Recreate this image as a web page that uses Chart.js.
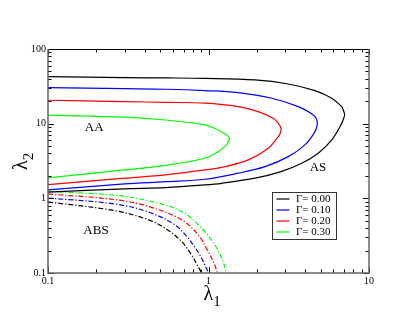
<!DOCTYPE html>
<html>
<head>
<meta charset="utf-8">
<script src="https://cdn.jsdelivr.net/npm/chart.js@4/dist/chart.umd.min.js"></script>
<style>
  html, body { margin: 0; padding: 0; background: #fff; }
</style>
</head>
<body>
<canvas id="chart" width="415" height="321"></canvas>
<script>
// Gamma values (legend)
const gammaLabels = ['Γ= 0.00', 'Γ= 0.10', 'Γ= 0.20', 'Γ= 0.30'];

// Solid curves (AA / AS boundary), [lambda1, lambda2]
const solidG000 = [[0.1, 42.6], [0.3, 41.3], [0.54, 41.0], [0.95, 40.5], [1.95, 38.5], [3.14, 34.0], [4.61, 27.7], [5.86, 21.9], [6.76, 16.9], [6.93, 15.0], [7.05, 13.2], [6.93, 11.6], [6.76, 10.1], [5.86, 6.05], [4.83, 4.02], [3.81, 2.95], [2.83, 2.28], [1.95, 1.86], [1.21, 1.59], [0.95, 1.51], [0.54, 1.39], [0.3, 1.34], [0.1, 1.21]];
const solidG010 = [[0.1, 30.3], [0.3, 29.4], [0.54, 28.9], [0.95, 27.7], [1.53, 26.0], [2.48, 21.9], [3.63, 16.9], [4.5, 13.1], [4.68, 11.8], [4.76, 10.6], [4.73, 9.12], [4.61, 7.81], [3.99, 5.19], [3.14, 3.62], [2.25, 2.66], [1.53, 2.17], [0.95, 1.80], [0.54, 1.67], [0.3, 1.56], [0.1, 1.30]];
const solidG020 = [[0.1, 20.6], [0.3, 19.7], [0.54, 19.3], [0.95, 18.8], [1.53, 16.9], [2.04, 14.5], [2.53, 11.8], [2.72, 10.2], [2.83, 8.68], [2.80, 7.51], [2.72, 6.70], [2.36, 4.69], [1.77, 3.27], [1.27, 2.66], [0.95, 2.40], [0.54, 2.06], [0.3, 1.86], [0.1, 1.53]];
const solidG030 = [[0.1, 13.0], [0.3, 12.2], [0.54, 11.2], [0.95, 9.61], [1.15, 8.24], [1.3, 7.06], [1.33, 6.74], [1.35, 6.24], [1.33, 5.78], [1.3, 5.19], [1.15, 4.22], [0.95, 3.44], [0.54, 2.77], [0.3, 2.40], [0.1, 1.88]];

// Dash-dot curves (ABS boundary)
const dashG000 = [[0.1, 0.895], [0.261, 0.684], [0.42, 0.519], [0.533, 0.402], [0.677, 0.267], [0.782, 0.176], [0.86, 0.123], [0.907, 0.1]];
const dashG010 = [[0.1, 1.01], [0.261, 0.841], [0.42, 0.658], [0.615, 0.445], [0.745, 0.295], [0.881, 0.176], [0.947, 0.129], [1.0, 0.1]];
const dashG020 = [[0.1, 1.146], [0.261, 0.961], [0.42, 0.783], [0.677, 0.519], [0.86, 0.327], [0.993, 0.196], [1.093, 0.129], [1.134, 0.1]];
const dashG030 = [[0.1, 1.24], [0.261, 1.10], [0.42, 0.931], [0.677, 0.671], [0.902, 0.402], [1.093, 0.24], [1.231, 0.144], [1.285, 0.1]];

// Axis ticks
const xTickValues = [0.1, 1, 10];
const xTickLabels = ['0.1', '1', '10'];
const yTickValues = [0.1, 1, 10, 100];
const yTickLabels = ['0.1', '1', '10', '100'];

// Region labels
const regionLabels = ['AA', 'AS', 'ABS'];

const colors = ['#000000', '#0000ff', '#ff0000', '#00ff00'];
const FONT = '"Liberation Serif", "DejaVu Serif", serif';

const toPts = arr => arr.map(([x, y]) => ({ x, y }));

const datasets = [];
[solidG000, solidG010, solidG020, solidG030].forEach((d, i) => {
    datasets.push({
        label: gammaLabels[i], data: toPts(d), borderColor: colors[i],
        borderWidth: 1.2, tension: 0.35, pointRadius: 0, fill: false
    });
});
[dashG000, dashG010, dashG020, dashG030].forEach((d, i) => {
    datasets.push({
        label: '', data: toPts(d), borderColor: colors[i],
        borderWidth: 1.2, tension: 0.35, pointRadius: 0, fill: false,
        borderDash: [5, 2, 1.2, 2]
    });
});

// log ticks: decades plus 2..9 minors
function logTicks(decades) {
    const out = [];
    decades.forEach((d, i) => {
        out.push(d);
        if (i < decades.length - 1) {
            for (let m = 2; m <= 9; m++) out.push(+(d * m).toPrecision(3));
        }
    });
    return out;
}

function tickLabel(value, values, labels) {
    const i = values.findIndex(v => Math.abs(Math.log10(v) - Math.log10(value)) < 1e-6);
    return i >= 0 ? labels[i] : '';
}

const decorations = {
    id: 'decorations',
    afterDatasetsDraw(chart) {
        const { ctx, chartArea: a, scales: { x, y } } = chart;
        ctx.save();

        // inward ticks on all sides
        ctx.strokeStyle = '#000';
        ctx.lineWidth = 1;
        x.ticks.forEach(t => {
            const px = Math.round(x.getPixelForValue(t.value)) + 0.5;
            const major = xTickValues.some(v => Math.abs(v - t.value) < 1e-9);
            const len = major ? 6 : 3.5;
            ctx.beginPath();
            ctx.moveTo(px, a.bottom); ctx.lineTo(px, a.bottom - len);
            ctx.moveTo(px, a.top); ctx.lineTo(px, a.top + len);
            ctx.stroke();
        });
        y.ticks.forEach(t => {
            const py = Math.round(y.getPixelForValue(t.value)) + 0.5;
            const major = yTickValues.some(v => Math.abs(v - t.value) < 1e-9);
            const len = major ? 6 : 3.5;
            ctx.beginPath();
            ctx.moveTo(a.left, py); ctx.lineTo(a.left + len, py);
            ctx.moveTo(a.right, py); ctx.lineTo(a.right - len, py);
            ctx.stroke();
        });

        // frame
        ctx.beginPath();
        ctx.moveTo(a.left, a.top + 0.5); ctx.lineTo(a.right, a.top + 0.5);
        ctx.stroke();
        ctx.strokeStyle = '#666';
        ctx.lineWidth = 1.5;
        ctx.beginPath();
        ctx.moveTo(a.left, a.top); ctx.lineTo(a.left, a.bottom);
        ctx.lineTo(a.right, a.bottom); ctx.lineTo(a.right, a.top);
        ctx.stroke();

        // region labels
        ctx.fillStyle = '#000';
        ctx.font = '13px ' + FONT;
        ctx.textAlign = 'center';
        ctx.textBaseline = 'middle';
        ctx.fillText(regionLabels[0], x.getPixelForValue(0.194), y.getPixelForValue(8.75));
        ctx.fillText(regionLabels[1], x.getPixelForValue(4.81), y.getPixelForValue(2.55));
        ctx.fillText(regionLabels[2], x.getPixelForValue(0.199), y.getPixelForValue(0.367));

        // legend box
        const lx = a.right - 96.5, ly = a.top + 143.5;
        ctx.strokeStyle = '#333';
        ctx.lineWidth = 1;
        ctx.strokeRect(lx, ly, 64, 47);
        ctx.font = '11px ' + FONT;
        ctx.textAlign = 'left';
        gammaLabels.forEach((lab, i) => {
            const ry = ly + 6.5 + i * 11;
            ctx.strokeStyle = colors[i];
            ctx.lineWidth = 1.2;
            ctx.beginPath();
            ctx.moveTo(lx + 4, ry); ctx.lineTo(lx + 17, ry);
            ctx.stroke();
            ctx.fillStyle = '#000';
            ctx.fillText(lab, lx + 23.5, ry + 0.5);
        });

        // axis titles with subscripts
        ctx.textAlign = 'left';
        ctx.textBaseline = 'alphabetic';
        ctx.font = '20px ' + FONT;
        const xl = (a.left + a.right) / 2 - 5;
        ctx.fillText('λ', xl, 300);
        const lw = ctx.measureText('λ').width;
        ctx.font = '15px ' + FONT;
        ctx.fillText('1', xl + lw, 306);

        ctx.translate(27, 170);
        ctx.rotate(-Math.PI / 2);
        ctx.font = '20px ' + FONT;
        ctx.fillText('λ', 0, 0);
        ctx.font = '15px ' + FONT;
        ctx.fillText('2', lw, 6);

        ctx.restore();
    }
};

new Chart(document.getElementById('chart'), {
    type: 'line',
    data: { datasets },
    options: {
        responsive: false,
        animation: false,
        layout: { padding: { top: 49, right: 46, left: 0, bottom: 0 } },
        plugins: { legend: { display: false }, tooltip: { enabled: false } },
        scales: {
            x: {
                type: 'logarithmic', min: 0.1, max: 10,
                grid: { display: false, drawTicks: false },
                border: { display: false },
                afterBuildTicks: s => { s.ticks = logTicks(xTickValues).map(v => ({ value: v })); },
                afterFit: s => { s.height = 48; },
                ticks: {
                    autoSkip: false, maxRotation: 0, padding: 2, color: '#000',
                    font: { family: FONT, size: 10 },
                    callback: v => tickLabel(v, xTickValues, xTickLabels)
                }
            },
            y: {
                type: 'logarithmic', min: 0.1, max: 100,
                grid: { display: false, drawTicks: false },
                border: { display: false },
                afterBuildTicks: s => { s.ticks = logTicks(yTickValues).map(v => ({ value: v })); },
                afterFit: s => { s.width = 48; },
                ticks: {
                    autoSkip: false, padding: 2, color: '#000',
                    font: { family: FONT, size: 10 },
                    callback: v => tickLabel(v, yTickValues, yTickLabels)
                }
            }
        }
    },
    plugins: [decorations]
});
</script>
</body>
</html>
